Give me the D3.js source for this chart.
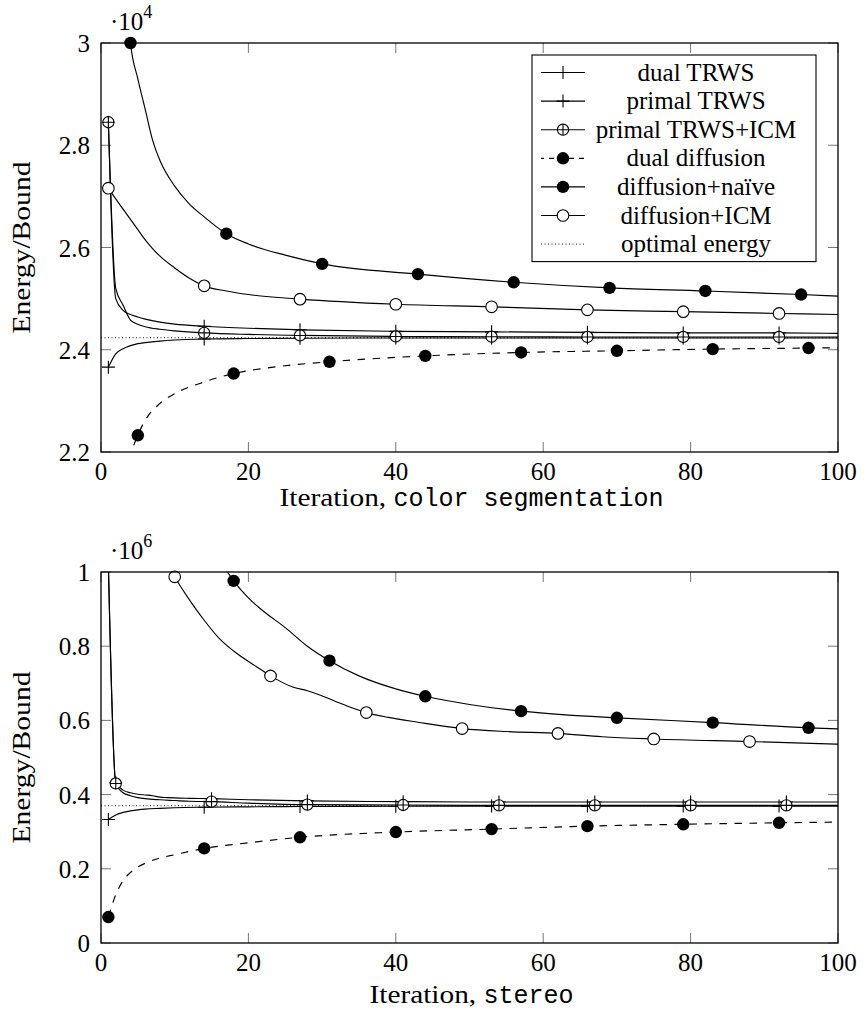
<!DOCTYPE html>
<html>
<head>
<meta charset="utf-8">
<script src="https://cdn.jsdelivr.net/npm/d3@7"></script>
<style>
  body { margin: 0; background: #fff; }
  svg text { fill: #000; }
</style>
</head>
<body>
<svg id="chart" width="864" height="1019"></svg>
<script>
// ---------- axis ticks ----------
const iterTicks = [0, 20, 40, 60, 80, 100];
const segYTicks = [2.2, 2.4, 2.6, 2.8, 3];
const stereoYTicks = [0, 0.2, 0.4, 0.6, 0.8, 1];

// ---------- legend ----------
const legendLabels = ["dual TRWS", "primal TRWS", "primal TRWS+ICM", "dual diffusion",
                      "diffusion+naïve", "diffusion+ICM", "optimal energy"];

// ---------- color segmentation (energy ·10^4) ----------
const segDualTRWSIter = [1, 2, 3, 4, 5, 6, 8, 10, 14, 20, 27, 40, 53, 66, 79, 92, 100];
const segDualTRWS     = [2.366, 2.392, 2.402, 2.408, 2.412, 2.414, 2.417, 2.419, 2.421, 2.422, 2.4225, 2.423, 2.423, 2.423, 2.423, 2.423, 2.423];
const segPrimalTRWSIter = [1, 2, 3, 4, 5, 6, 8, 10, 14, 20, 27, 40, 53, 66, 79, 92, 100];
const segPrimalTRWS     = [2.845, 2.50, 2.477, 2.469, 2.464, 2.46, 2.454, 2.45, 2.446, 2.442, 2.439, 2.436, 2.435, 2.434, 2.433, 2.433, 2.432];
const segPrimalICMIter = [1, 2, 3, 4, 5, 6, 8, 10, 14, 20, 27, 40, 53, 66, 79, 92, 100];
const segPrimalICM     = [2.845, 2.52, 2.487, 2.458, 2.45, 2.445, 2.44, 2.437, 2.433, 2.43, 2.428, 2.426, 2.4255, 2.425, 2.425, 2.425, 2.425];
const segDualDiffIter = [1, 2, 3, 4, 5, 6, 8, 10, 14, 18, 24, 31, 44, 57, 70, 83, 96, 100];
const segDualDiff     = [1.6, 1.95, 2.1, 2.19, 2.2327, 2.262, 2.295, 2.314, 2.337, 2.3535, 2.367, 2.3765, 2.388, 2.3947, 2.398, 2.4013, 2.4033, 2.404];
const segNaiveIter = [3, 4, 5, 6, 7, 8, 10, 12, 14, 17, 20, 25, 30, 43, 56, 69, 82, 95, 100];
const segNaive     = [3.2, 3.0, 2.93, 2.87, 2.81, 2.77, 2.72, 2.685, 2.66, 2.627, 2.607, 2.585, 2.568, 2.548, 2.532, 2.521, 2.515, 2.508, 2.505];
const segDiffICMIter = [1, 2, 3, 4, 5, 6, 7, 8, 10, 12, 14, 17, 20, 27, 40, 53, 66, 79, 92, 100];
const segDiffICM     = [2.716, 2.695, 2.675, 2.655, 2.635, 2.615, 2.598, 2.583, 2.56, 2.54, 2.525, 2.515, 2.508, 2.499, 2.489, 2.484, 2.478, 2.4745, 2.471, 2.469];
const segOptimal = 2.4235;

// ---------- stereo (energy ·10^6) ----------
const stDualTRWSIter = [1, 2, 3, 4, 5, 6, 8, 10, 14, 20, 27, 40, 53, 66, 79, 92, 100];
const stDualTRWS     = [0.333, 0.345, 0.352, 0.356, 0.359, 0.361, 0.363, 0.3645, 0.366, 0.367, 0.368, 0.3685, 0.369, 0.369, 0.369, 0.369, 0.369];
const stPrimalTRWSIter = [1, 2, 3, 4, 5, 6, 7, 8, 9, 10, 12, 15, 20, 28, 41, 54, 67, 80, 93, 100];
const stPrimalTRWS     = [1.02, 0.432, 0.412, 0.405, 0.401, 0.399, 0.397, 0.393, 0.392, 0.391, 0.390, 0.389, 0.386, 0.383, 0.381, 0.380, 0.380, 0.380, 0.380, 0.380];
const stPrimalICMIter = [1, 2, 3, 4, 5, 6, 8, 10, 12, 15, 20, 28, 41, 54, 67, 80, 93, 100];
const stPrimalICM     = [1.02, 0.43, 0.405, 0.397, 0.392, 0.389, 0.386, 0.384, 0.382, 0.381, 0.377, 0.373, 0.372, 0.371, 0.371, 0.371, 0.371, 0.371];
const stDualDiffIter = [1, 2, 3, 4, 5, 6, 8, 10, 14, 20, 27, 40, 53, 66, 79, 92, 100];
const stDualDiff     = [0.07, 0.13, 0.168, 0.19, 0.205, 0.215, 0.229, 0.238, 0.255, 0.27, 0.285, 0.299, 0.307, 0.315, 0.32, 0.324, 0.326];
const stNaiveIter = [16, 17, 18, 20, 22, 25, 28, 31, 35, 40, 44, 50, 57, 63, 70, 83, 96, 100];
const stNaive     = [1.04, 1.005, 0.976, 0.93, 0.895, 0.85, 0.8, 0.761, 0.72, 0.685, 0.665, 0.643, 0.625, 0.615, 0.607, 0.594, 0.58, 0.577];
const stDiffICMIter = [9, 10, 11, 12, 14, 16, 18, 21, 23, 26, 28, 30, 33, 36, 39, 43, 49, 55, 62, 68, 75, 88, 100];
const stDiffICM     = [1.03, 0.987, 0.955, 0.925, 0.87, 0.822, 0.787, 0.746, 0.72, 0.69, 0.68, 0.666, 0.642, 0.621, 0.608, 0.595, 0.578, 0.57, 0.565, 0.556, 0.55, 0.543, 0.536];
const stOptimal = 0.370;

// ---------- styles per series (same order as legend) ----------
const styles = [
  { mark: "plus",   dash: null },
  { mark: "plus",   dash: null },
  { mark: "oplus",  dash: null },
  { mark: "dot",    dash: "7.5 7.5" },
  { mark: "dot",    dash: null },
  { mark: "circle", dash: null },
];
const MARK_STEP = 13;

const toPoints = (xs, ys) => xs.map((x, i) => ({ x, y: ys[i] }));

const panels = [
  {
    box: { left: 101, right: 838, top: 43, bottom: 452 },
    yDomain: [2.2, 3], yTicks: segYTicks, exponent: "4",
    xTitle: "Iteration, ", xTitleMono: "color segmentation", xTitleY: 506,
    xTitleLen: [114, 270],
    optimal: segOptimal, legend: true,
    series: [
      { pts: toPoints(segDualTRWSIter, segDualTRWS), phase: 1 },
      { pts: toPoints(segPrimalTRWSIter, segPrimalTRWS), phase: 1 },
      { pts: toPoints(segPrimalICMIter, segPrimalICM), phase: 1 },
      { pts: toPoints(segDualDiffIter, segDualDiff), phase: 5 },
      { pts: toPoints(segNaiveIter, segNaive), phase: 4 },
      { pts: toPoints(segDiffICMIter, segDiffICM), phase: 1 },
    ],
  },
  {
    box: { left: 101, right: 838, top: 572, bottom: 943 },
    yDomain: [0, 1], yTicks: stereoYTicks, exponent: "6",
    xTitle: "Iteration, ", xTitleMono: "stereo", xTitleY: 1003,
    xTitleLen: [114, 90],
    optimal: stOptimal, legend: false,
    series: [
      { pts: toPoints(stDualTRWSIter, stDualTRWS), phase: 1 },
      { pts: toPoints(stPrimalTRWSIter, stPrimalTRWS), phase: 2 },
      { pts: toPoints(stPrimalICMIter, stPrimalICM), phase: 2 },
      { pts: toPoints(stDualDiffIter, stDualDiff), phase: 1 },
      { pts: toPoints(stNaiveIter, stNaive), phase: 5 },
      { pts: toPoints(stDiffICMIter, stDiffICM), phase: 10 },
    ],
  },
];

const svg = d3.select("#chart");
const SERIF = '"Liberation Serif", "DejaVu Serif", serif';
const MONO = '"Liberation Mono", "DejaVu Sans Mono", monospace';
const FS = 25;

function label(parent, x, y, str, anchor = "middle") {
  const t = parent.append("text")
    .attr("x", x).attr("y", y)
    .attr("text-anchor", anchor)
    .attr("font-family", SERIF)
    .attr("font-size", FS);
  if (str !== null) t.text(str);
  return t;
}

function drawMarker(g, type, cx, cy) {
  if (type === "plus") {
    g.append("path").attr("d", `M${cx - 6.5},${cy}H${cx + 6.5}M${cx},${cy - 6.5}V${cy + 6.5}`)
      .attr("stroke", "#000").attr("stroke-width", 1.1).attr("fill", "none");
  } else if (type === "oplus") {
    g.append("circle").attr("cx", cx).attr("cy", cy).attr("r", 5.6)
      .attr("fill", "#fff").attr("stroke", "#000").attr("stroke-width", 1.1);
    g.append("path").attr("d", `M${cx - 5.6},${cy}H${cx + 5.6}M${cx},${cy - 5.6}V${cy + 5.6}`)
      .attr("stroke", "#000").attr("stroke-width", 1.1);
  } else if (type === "dot") {
    g.append("circle").attr("cx", cx).attr("cy", cy).attr("r", 6.2).attr("fill", "#000");
  } else if (type === "circle") {
    g.append("circle").attr("cx", cx).attr("cy", cy).attr("r", 5.8)
      .attr("fill", "#fff").attr("stroke", "#000").attr("stroke-width", 1.1);
  }
}

panels.forEach((p, pi) => {
  const b = p.box;
  const x = d3.scaleLinear().domain([0, 100]).range([b.left, b.right]);
  const y = d3.scaleLinear().domain(p.yDomain).range([b.bottom, b.top]);
  const g = svg.append("g");

  const clipId = "clip" + pi;
  svg.append("clipPath").attr("id", clipId).append("rect")
    .attr("x", b.left).attr("y", b.top).attr("width", b.right - b.left).attr("height", b.bottom - b.top);

  // tick marks inside the frame on all four sides
  const tickG = g.append("g").attr("stroke", "#777").attr("stroke-width", 1);
  iterTicks.forEach(t => {
    tickG.append("line").attr("x1", x(t)).attr("x2", x(t)).attr("y1", b.bottom).attr("y2", b.bottom - 10);
    tickG.append("line").attr("x1", x(t)).attr("x2", x(t)).attr("y1", b.top).attr("y2", b.top + 10);
  });
  p.yTicks.forEach(t => {
    tickG.append("line").attr("x1", b.left).attr("x2", b.left + 10).attr("y1", y(t)).attr("y2", y(t));
    tickG.append("line").attr("x1", b.right).attr("x2", b.right - 10).attr("y1", y(t)).attr("y2", y(t));
  });

  // optimal energy reference
  g.append("line").attr("x1", b.left).attr("x2", b.right)
    .attr("y1", y(p.optimal)).attr("y2", y(p.optimal))
    .attr("stroke", "#000").attr("stroke-width", 0.9).attr("stroke-dasharray", "1 2.5");

  // series: line then markers
  const line = d3.line().x(d => x(d.x)).y(d => y(d.y)).curve(d3.curveMonotoneX);
  p.series.forEach((s, si) => {
    const st = styles[si];
    const path = g.append("path").datum(s.pts).attr("d", line)
      .attr("fill", "none").attr("stroke", "#000").attr("stroke-width", 1.15)
      .attr("clip-path", `url(#${clipId})`);
    if (st.dash) path.attr("stroke-dasharray", st.dash);
    const mg = g.append("g");
    s.pts.forEach(d => {
      if (d.x >= s.phase && (d.x - s.phase) % MARK_STEP === 0 &&
          d.y >= p.yDomain[0] - 1e-9 && d.y <= p.yDomain[1] + 1e-9) {
        drawMarker(mg, st.mark, x(d.x), y(d.y));
      }
    });
  });

  // frame
  g.append("rect").attr("x", b.left).attr("y", b.top)
    .attr("width", b.right - b.left).attr("height", b.bottom - b.top)
    .attr("fill", "none").attr("stroke", "#000").attr("stroke-width", 1.3);

  // tick labels
  iterTicks.forEach(t => label(g, x(t), b.bottom + 28, String(t)));
  p.yTicks.forEach(t => label(g, 90, y(t) + 9, String(t), "end"));

  // scale exponent
  const ex = label(g, 110, b.top - 13, null, "start");
  ex.append("tspan").text("·10");
  ex.append("tspan").attr("font-size", 18).attr("dy", -12).text(p.exponent);

  // axis titles
  const cx = (b.left + b.right) / 2 + 2;
  const total = p.xTitleLen[0] + p.xTitleLen[1];
  const xt = g.append("text").attr("y", p.xTitleY).attr("font-size", FS);
  xt.append("tspan").attr("x", cx - total / 2).attr("font-family", SERIF)
    .attr("textLength", p.xTitleLen[0]).attr("lengthAdjust", "spacingAndGlyphs").text(p.xTitle);
  xt.append("tspan").attr("font-family", MONO)
    .attr("textLength", p.xTitleLen[1]).attr("lengthAdjust", "spacingAndGlyphs").text(p.xTitleMono);

  g.append("text")
    .attr("transform", `translate(${30},${(b.top + b.bottom) / 2}) rotate(-90)`)
    .attr("x", -86).attr("font-family", SERIF).attr("font-size", FS)
    .attr("textLength", 172).attr("lengthAdjust", "spacingAndGlyphs").text("Energy/Bound");

  // legend
  if (p.legend) {
    const lx = 532, ly = 55, lw = 284, rowH = 28.6, firstRow = 72.5;
    const lg = g.append("g");
    lg.append("rect").attr("x", lx).attr("y", ly).attr("width", lw)
      .attr("height", (firstRow - ly) * 2 + rowH * 6)
      .attr("fill", "#fff").attr("stroke", "#000").attr("stroke-width", 1.1);
    legendLabels.forEach((lab, i) => {
      const cy = firstRow + i * rowH;
      const ln = lg.append("line").attr("x1", 541).attr("x2", 585).attr("y1", cy).attr("y2", cy)
        .attr("stroke", "#000");
      if (i < 6) {
        ln.attr("stroke-width", 1.15);
        if (styles[i].dash) ln.attr("stroke-dasharray", "5 5").attr("stroke-dashoffset", 2);
        drawMarker(lg, styles[i].mark, 563, cy);
      } else {
        ln.attr("stroke-width", 0.9).attr("stroke-dasharray", "1 2.5");
      }
      label(lg, 696, cy + 8, lab);
    });
  }
});
</script>
</body>
</html>
